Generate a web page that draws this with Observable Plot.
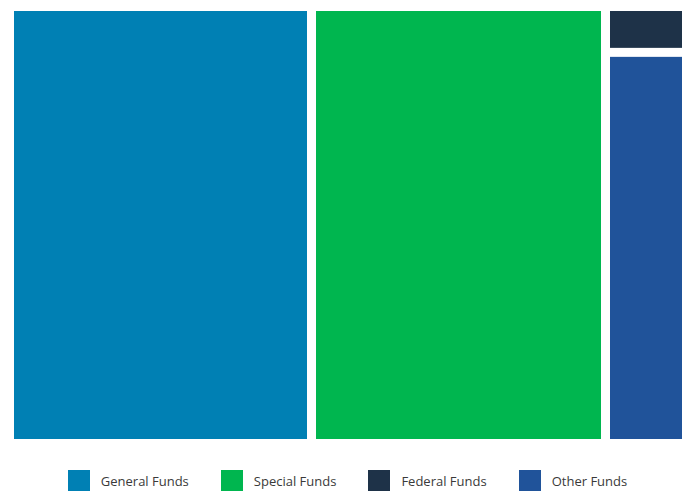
<!DOCTYPE html>
<html>
<head>
<meta charset="utf-8">
<script src="https://cdn.jsdelivr.net/npm/d3@7"></script>
<script src="https://cdn.jsdelivr.net/npm/@observablehq/plot@0.6"></script>
<style>
  html, body { margin: 0; padding: 0; background: #fff; }
  #chart svg { display: block; }
  #legend { display: flex; justify-content: center; align-items: center; margin-top: 20px; padding-left: 8px;
    font-family: "Open Sans", sans-serif; font-size: 13px; color: #3a3a3a; }
  .item { display: flex; align-items: center; margin: 0 16px; }
  .sw { width: 22px; height: 21px; margin-right: 11px; }
</style>
</head>
<body>
<div id="chart"></div>
<div id="legend"></div>
<script>
const categories = ["General Funds", "Special Funds", "Federal Funds", "Other Funds"];
const values = [30.2, 29.4, 0.85, 7.25];
const colors = ["#0080b4", "#00b64f", "#1e3248", "#20539a"];
// grouping of the layout: the last two share a column
const groups = ["General Funds", "Special Funds", "Non-General", "Non-General"];

const W = 668, H = 428;
const rootData = {name: "root", children: []};
categories.forEach((c, i) => {
  const g = groups[i];
  const leaf = {name: c, value: values[i]};
  if (g === c) rootData.children.push(leaf);
  else {
    let grp = rootData.children.find(d => d.name === g);
    if (!grp) { grp = {name: g, children: []}; rootData.children.push(grp); }
    grp.children.push(leaf);
  }
});
const root = d3.hierarchy(rootData).sum(d => d.value || 0);
d3.treemap().tile(d3.treemapSliceDice).size([W, H]).paddingInner(9).round(false)(root);
const leaves = root.leaves().map(d => ({name: d.data.name, x0: d.x0, x1: d.x1, y0: d.y0, y1: d.y1}));

const chart = Plot.plot({
  width: 687,
  height: 450,
  marginTop: 11,
  marginBottom: 11,
  marginLeft: 14,
  marginRight: 5,
  x: {domain: [0, W], axis: null},
  y: {domain: [0, H], reverse: true, axis: null},
  color: {domain: categories, range: colors},
  marks: [
    Plot.rect(leaves, {x1: "x0", x2: "x1", y1: "y0", y2: "y1", fill: "name"})
  ]
});
document.getElementById("chart").appendChild(chart);

const legend = document.getElementById("legend");
categories.forEach((c, i) => {
  const item = document.createElement("div");
  item.className = "item";
  const sw = document.createElement("span");
  sw.className = "sw";
  sw.style.background = colors[i];
  const t = document.createElement("span");
  t.textContent = c;
  item.appendChild(sw); item.appendChild(t);
  legend.appendChild(item);
});
</script>
</body>
</html>
